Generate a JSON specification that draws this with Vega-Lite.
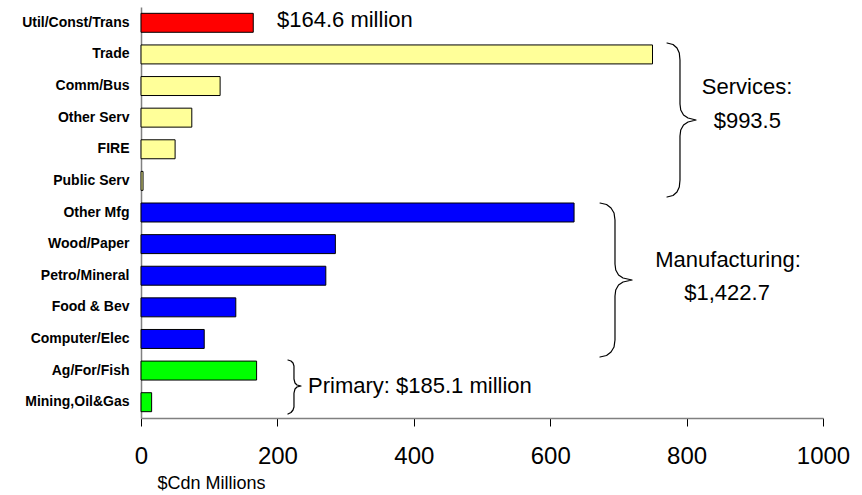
{
  "$schema": "https://vega.github.io/schema/vega-lite/v6.json",
  "width": 682,
  "height": 411,
  "autosize": {"type": "none"},
  "padding": {"left": 141, "top": 7, "right": 39, "bottom": 77},
  "background": "white",
  "config": {"view": {"stroke": null}, "font": "Liberation Sans"},
  "layer": [
    {
      "data": {"values": [
        {"sector": "Util/Const/Trans", "value": 164.6, "group": "Util"},
        {"sector": "Trade", "value": 750, "group": "Services"},
        {"sector": "Comm/Bus", "value": 116, "group": "Services"},
        {"sector": "Other Serv", "value": 74.5, "group": "Services"},
        {"sector": "FIRE", "value": 50, "group": "Services"},
        {"sector": "Public Serv", "value": 3, "group": "Services"},
        {"sector": "Other Mfg", "value": 635, "group": "Manufacturing"},
        {"sector": "Wood/Paper", "value": 285, "group": "Manufacturing"},
        {"sector": "Petro/Mineral", "value": 271, "group": "Manufacturing"},
        {"sector": "Food & Bev", "value": 139, "group": "Manufacturing"},
        {"sector": "Computer/Elec", "value": 92.7, "group": "Manufacturing"},
        {"sector": "Ag/For/Fish", "value": 169.5, "group": "Primary"},
        {"sector": "Mining,Oil&Gas", "value": 15.6, "group": "Primary"}
      ]},
      "mark": {"type": "bar", "stroke": "black", "strokeWidth": 1},
      "encoding": {
        "y": {
          "field": "sector", "type": "nominal", "sort": null,
          "scale": {"paddingInner": 0.4, "paddingOuter": 0.2},
          "axis": {
            "title": null, "ticks": false, "domainColor": "#808080", "domainWidth": 1.5,
            "labelFont": "Liberation Sans", "labelFontWeight": "bold", "labelFontSize": 14,
            "labelColor": "black", "labelPadding": 12, "labelLimit": 200
          }
        },
        "x": {
          "field": "value", "type": "quantitative",
          "scale": {"domain": [0, 1000], "nice": false},
          "axis": {
            "values": [0, 200, 400, 600, 800, 1000], "format": "d", "grid": false,
            "domainColor": "#808080", "domainWidth": 1.5, "tickColor": "black", "tickSize": 8,
            "labelFont": "Liberation Sans", "labelFontSize": 24, "labelColor": "black", "labelPadding": 18,
            "labelFlush": false,
            "title": "$Cdn Millions", "titleFont": "Liberation Sans", "titleFontSize": 18, "titleFontWeight": "normal",
            "titleColor": "black", "titleAnchor": "start", "titleAlign": "left", "titleX": 16, "titleY": 56, "titleBaseline": "top"
          }
        },
        "color": {
          "field": "group", "type": "nominal",
          "scale": {"domain": ["Util", "Services", "Manufacturing", "Primary"], "range": ["#FF0000", "#FFFF99", "#0000FF", "#00FF00"]},
          "legend": null
        }
      }
    },
    {
      "data": {"values": [
        {"brace": "s", "i": 1, "x": 771.3, "row": 1.139},
        {"brace": "s", "i": 2, "x": 780.1, "row": 1.186},
        {"brace": "s", "i": 3, "x": 785.9, "row": 1.297},
        {"brace": "s", "i": 4, "x": 789.3, "row": 1.455},
        {"brace": "s", "i": 5, "x": 790.3, "row": 1.676},
        {"brace": "s", "i": 6, "x": 790.3, "row": 3.068},
        {"brace": "s", "i": 7, "x": 791.4, "row": 3.258},
        {"brace": "s", "i": 8, "x": 795.5, "row": 3.416},
        {"brace": "s", "i": 9, "x": 802.1, "row": 3.511},
        {"brace": "s", "i": 10, "x": 813.8, "row": 3.574},
        {"brace": "s", "i": 11, "x": 802.1, "row": 3.638},
        {"brace": "s", "i": 12, "x": 795.5, "row": 3.732},
        {"brace": "s", "i": 13, "x": 791.4, "row": 3.891},
        {"brace": "s", "i": 14, "x": 790.3, "row": 4.08},
        {"brace": "s", "i": 15, "x": 790.3, "row": 5.472},
        {"brace": "s", "i": 16, "x": 789.3, "row": 5.694},
        {"brace": "s", "i": 17, "x": 785.9, "row": 5.852},
        {"brace": "s", "i": 18, "x": 780.1, "row": 5.962},
        {"brace": "s", "i": 19, "x": 771.3, "row": 6.01},
        {"brace": "m", "i": 1, "x": 673.0, "row": 6.2},
        {"brace": "m", "i": 2, "x": 682.6, "row": 6.247},
        {"brace": "m", "i": 3, "x": 689.2, "row": 6.358},
        {"brace": "m", "i": 4, "x": 693.6, "row": 6.516},
        {"brace": "m", "i": 5, "x": 695.0, "row": 6.737},
        {"brace": "m", "i": 6, "x": 695.0, "row": 8.129},
        {"brace": "m", "i": 7, "x": 696.1, "row": 8.319},
        {"brace": "m", "i": 8, "x": 700.2, "row": 8.477},
        {"brace": "m", "i": 9, "x": 706.8, "row": 8.572},
        {"brace": "m", "i": 10, "x": 720.0, "row": 8.635},
        {"brace": "m", "i": 11, "x": 706.8, "row": 8.699},
        {"brace": "m", "i": 12, "x": 700.2, "row": 8.793},
        {"brace": "m", "i": 13, "x": 696.1, "row": 8.952},
        {"brace": "m", "i": 14, "x": 695.0, "row": 9.141},
        {"brace": "m", "i": 15, "x": 695.0, "row": 10.533},
        {"brace": "m", "i": 16, "x": 693.6, "row": 10.755},
        {"brace": "m", "i": 17, "x": 689.2, "row": 10.913},
        {"brace": "m", "i": 18, "x": 682.6, "row": 11.023},
        {"brace": "m", "i": 19, "x": 673.0, "row": 11.071},
        {"brace": "p", "i": 1, "x": 215.5, "row": 11.166},
        {"brace": "p", "i": 2, "x": 219.9, "row": 11.197},
        {"brace": "p", "i": 3, "x": 222.9, "row": 11.261},
        {"brace": "p", "i": 4, "x": 224.3, "row": 11.356},
        {"brace": "p", "i": 5, "x": 224.3, "row": 11.767},
        {"brace": "p", "i": 6, "x": 225.8, "row": 11.893},
        {"brace": "p", "i": 7, "x": 228.7, "row": 11.957},
        {"brace": "p", "i": 8, "x": 234.6, "row": 11.988},
        {"brace": "p", "i": 9, "x": 228.7, "row": 12.02},
        {"brace": "p", "i": 10, "x": 225.8, "row": 12.083},
        {"brace": "p", "i": 11, "x": 224.3, "row": 12.21},
        {"brace": "p", "i": 12, "x": 224.3, "row": 12.652},
        {"brace": "p", "i": 13, "x": 222.9, "row": 12.747},
        {"brace": "p", "i": 14, "x": 219.9, "row": 12.826},
        {"brace": "p", "i": 15, "x": 215.5, "row": 12.874}
      ]},
      "mark": {"type": "line", "stroke": "black", "strokeWidth": 1.2, "clip": false, "strokeJoin": "round", "strokeCap": "round"},
      "encoding": {
        "x": {"field": "x", "type": "quantitative"},
        "y": {"field": "row", "type": "quantitative", "scale": {"domain": [0, 13], "reverse": true, "nice": false, "zero": false}, "axis": null},
        "detail": {"field": "brace"},
        "order": {"field": "i"}
      }
    },
    {
      "data": {"values": [
        {"label": "$164.6 million", "x": 199.4, "row": 0.4},
        {"label": "Primary: $185.1 million", "x": 244.9, "row": 11.99}
      ]},
      "mark": {"type": "text", "align": "left", "baseline": "middle", "fontSize": 22, "font": "Liberation Sans", "color": "black", "clip": false},
      "encoding": {
        "x": {"field": "x", "type": "quantitative"},
        "y": {"field": "row", "type": "quantitative", "scale": {"domain": [0, 13], "reverse": true, "nice": false, "zero": false}, "axis": null},
        "text": {"field": "label"}
      }
    },
    {
      "data": {"values": [
        {"label": "Services:", "x": 888.6, "row": 2.52},
        {"label": "$993.5", "x": 889, "row": 3.62},
        {"label": "Manufacturing:", "x": 860.7, "row": 8.0},
        {"label": "$1,422.7", "x": 859.3, "row": 9.05}
      ]},
      "mark": {"type": "text", "align": "center", "baseline": "middle", "fontSize": 22, "font": "Liberation Sans", "color": "black", "clip": false},
      "encoding": {
        "x": {"field": "x", "type": "quantitative"},
        "y": {"field": "row", "type": "quantitative", "scale": {"domain": [0, 13], "reverse": true, "nice": false, "zero": false}, "axis": null},
        "text": {"field": "label"}
      }
    }
  ],
  "resolve": {"scale": {"y": "independent"}}
}
